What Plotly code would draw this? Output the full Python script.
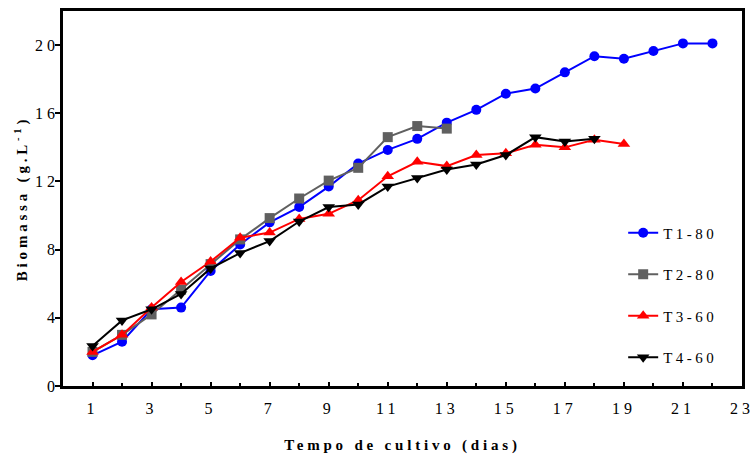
import plotly.graph_objects as go

days_t1 = list(range(1, 23))
t1_80 = [1.8, 2.6, 4.5, 4.6, 6.75, 8.3, 9.6, 10.5, 11.7, 13.05, 13.85, 14.5, 15.45,
         16.2, 17.15, 17.45, 18.4, 19.35, 19.2, 19.65, 20.1, 20.1]
days_t2 = list(range(1, 14))
t2_80 = [2.0, 3.0, 4.2, 5.65, 7.15, 8.6, 9.85, 11.0, 12.05, 12.8, 14.6, 15.25, 15.1]
days_t3 = list(range(1, 20))
t3_60 = [2.0, 3.0, 4.6, 6.1, 7.3, 8.7, 9.0, 9.8, 10.1, 10.9, 12.3, 13.15, 12.9,
         13.55, 13.65, 14.15, 14.0, 14.45, 14.2]
days_t4 = list(range(1, 19))
t4_60 = [2.35, 3.85, 4.5, 5.4, 6.9, 7.8, 8.5, 9.65, 10.5, 10.65, 11.7, 12.2, 12.7,
         13.0, 13.55, 14.6, 14.35, 14.5]

x_ticks = list(range(1, 24, 2))
y_ticks = [0, 4, 8, 12, 16, 20]

FONT = "Liberation Serif"

series = [
    ("T1-80", days_t1, t1_80, "#0000FF", "circle", 10),
    ("T2-80", days_t2, t2_80, "#606060", "square", 10),
    ("T3-60", days_t3, t3_60, "#FF0000", "triangle-up", 11),
    ("T4-60", days_t4, t4_60, "#000000", "triangle-down", 11),
]

fig = go.Figure()
for name, xs, ys, color, sym, size in series:
    fig.add_trace(go.Scatter(
        x=xs, y=ys, name=name, mode="lines+markers",
        line=dict(color=color, width=2),
        marker=dict(color=color, symbol=sym, size=size, line=dict(width=0)),
        legendgroup=name,
    ))

fig.update_layout(
    width=753, height=455,
    margin=dict(l=63, r=11, t=11, b=69),
    plot_bgcolor="white", paper_bgcolor="white",
    font=dict(family=FONT, size=15, color="black"),
    showlegend=True,
    legend=dict(x=0.825, y=0.452, xanchor="left", yanchor="top",
                bgcolor="rgba(0,0,0,0)", tracegroupgap=19, itemwidth=30,
                font=dict(family=FONT, size=15)),
    xaxis=dict(
        range=[0, 23], tickmode="array", tickvals=x_ticks,
        ticks="inside", ticklen=4, tickwidth=1.5, tickcolor="black",
        minor=dict(dtick=2, tick0=0, ticks="inside", ticklen=3, tickwidth=1.5, tickcolor="black"),
        showline=True, linewidth=2.5, linecolor="black", mirror=True,
        showgrid=False, zeroline=False, automargin=False,
        ticklabelstandoff=6,
        tickfont=dict(family=FONT, size=16),
        title=dict(text="<b>Tempo de cultivo (dias)</b>", standoff=24,
                   font=dict(family=FONT, size=15)),
    ),
    yaxis=dict(
        range=[0, 22], tickmode="array", tickvals=y_ticks,
        ticks="outside", ticklen=5, tickwidth=1.5, tickcolor="black",
        showline=True, linewidth=2.5, linecolor="black", mirror=True,
        showgrid=False, zeroline=False, automargin=False,
        ticklabelstandoff=-7,
        tickfont=dict(family=FONT, size=16),
        title=dict(text="<b>Biomassa (g.L<sup>-1</sup>)</b>", standoff=12,
                   font=dict(family=FONT, size=15)),
    ),
)

post = """
document.body.style.margin = '0';
var s = document.createElement('style');
s.innerHTML = 'body {margin:0;} .xtitle, .ytitle {letter-spacing: 3.8px;} .xtick text, .ytick text {letter-spacing: 4px;} .legendtext {letter-spacing: 3.5px;} .legend .scrollbox {clip-path: none !important;}';
document.head.appendChild(s);
"""
fig.write_html("out.html", post_script=post, config={"displayModeBar": False})
